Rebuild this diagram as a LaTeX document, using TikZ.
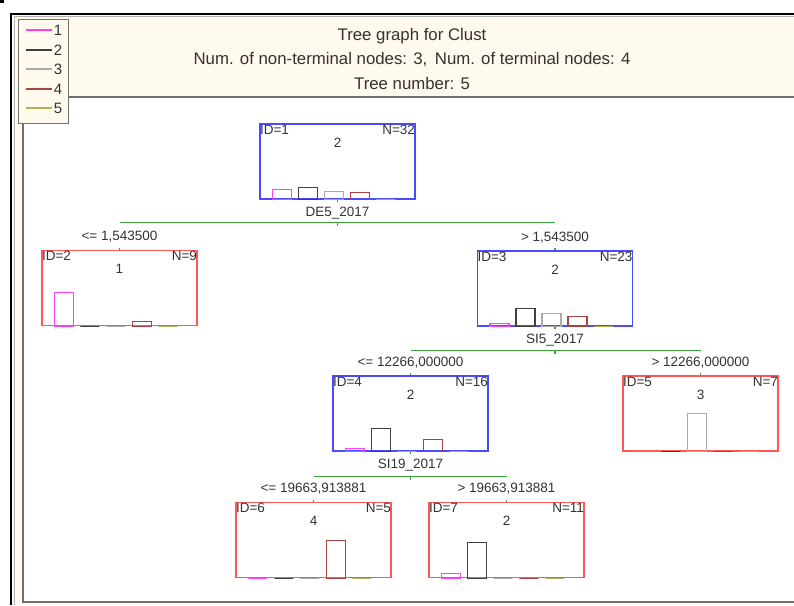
\documentclass[tikz,border=0pt]{standalone}
\usepackage{fontspec}
\setmainfont{Liberation Sans}
\definecolor{cream}{HTML}{FFF9EE}
\definecolor{boxblue}{HTML}{4A4AFF}
\definecolor{boxred}{HTML}{FF5656}
\definecolor{splitgreen}{HTML}{3AA23A}
\definecolor{cA}{HTML}{FF40FF}
\definecolor{cB}{HTML}{404040}
\definecolor{cC}{HTML}{AAAAAA}
\definecolor{cD}{HTML}{A84444}
\definecolor{cE}{HTML}{B0B060}
\definecolor{txt}{HTML}{333333}
\definecolor{framegray}{HTML}{707070}
\tikzset{
  tbox/.style={draw, minimum width=155pt, minimum height=75pt, inner sep=0pt, line width=1.3pt},
  bluebox/.style={tbox, draw=boxblue},
  redbox/.style={tbox, draw=boxred},
  lab/.style={inner sep=0.5pt, text=txt, font=\fontsize{13.5}{15}\selectfont},
  titletext/.style={inner sep=0pt, text=txt, font=\fontsize{16.8}{19}\selectfont},
  legtext/.style={inner sep=0pt, text=txt, font=\fontsize{15}{17}\selectfont},
  bar/.style={line width=1.3pt},
  split/.style={draw=splitgreen, line width=1.2pt},
}
\newcommand{\treebars}[6]{%
  \draw[bar,cA] ([xshift=13pt]#1.south west) rectangle ++(19pt,#2pt);
  \draw[bar,cB] ([xshift=39pt]#1.south west) rectangle ++(19pt,#3pt);
  \draw[bar,cC] ([xshift=65pt]#1.south west) rectangle ++(19pt,#4pt);
  \draw[bar,cD] ([xshift=91pt]#1.south west) rectangle ++(19pt,#5pt);
  \draw[bar,cE] ([xshift=117pt]#1.south west) rectangle ++(19pt,#6pt);
}
\newcommand{\boxtexts}[4]{%
  \node[lab, anchor=north west] (#1id) at ([yshift=-1pt]#1.north west) {ID=#2};
  \node[lab, anchor=north east] (#1n) at ([yshift=-1pt]#1.north east) {N=#3};
  \node[lab] (#1c) at ([yshift=-19pt]#1.north) {#4};
}
\begin{document}
\begin{tikzpicture}[x=1pt, y=-1pt]
\useasboundingbox (0,0) rectangle (794,605);
\fill[white] (0,0) rectangle (794,605);
\fill[black] (0,0) rectangle (4,3);
% window frame
\fill[cream] (11,14) rectangle (794,605);
\fill[white] (23,97) rectangle (794,602);
\draw[framegray, line width=1.3pt] (794,97) -- (23,97) -- (23,602) -- (794,602);
\draw[black, line width=2.5pt] (11,605) -- (11,14) -- (794,14);
\draw[gray!60, line width=1pt] (14,605) -- (14,16.5) -- (794,16.5);
% title
\node[titletext] (title1) at (412,36) {Tree graph for Clust};
\node[titletext] (title2) at (412,59) {Num. of non-terminal nodes: 3,\hspace{0.45em}Num. of terminal nodes: 4};
\node[titletext] (title3) at (412,83) {Tree number: 5};
% legend
\node[draw=framegray, fill=cream, line width=1.3pt, minimum width=50pt, minimum height=104pt, inner sep=0pt, anchor=north west] (legend) at (18,19) {};
\draw[cA, line width=1.3pt] (26,30) -- (52,30);
\draw[cB, line width=1.3pt] (26,50) -- (52,50);
\draw[cC, line width=1.3pt] (26,69) -- (52,69);
\draw[cD, line width=1.3pt] (26,89) -- (52,89);
\draw[cE, line width=1.3pt] (26,108) -- (52,108);
\node[legtext] (leg1) at (58,30) {1};
\node[legtext] (leg2) at (58,50) {2};
\node[legtext] (leg3) at (58,69) {3};
\node[legtext] (leg4) at (58,89) {4};
\node[legtext] (leg5) at (58,108) {5};
% tree nodes
\node[bluebox] (n1) at (337.5,161.5) {};
\node[redbox]  (n2) at (119.5,288) {};
\node[bluebox] (n3) at (555,288.5) {};
\node[bluebox] (n4) at (410.5,413.5) {};
\node[redbox]  (n5) at (700.5,413.5) {};
\node[redbox]  (n6) at (313.5,540) {};
\node[redbox]  (n7) at (506.5,540) {};
\boxtexts{n1}{1}{32}{2}
\boxtexts{n2}{2}{9}{1}
\boxtexts{n3}{3}{23}{2}
\boxtexts{n4}{4}{16}{2}
\boxtexts{n5}{5}{7}{3}
\boxtexts{n6}{6}{5}{4}
\boxtexts{n7}{7}{11}{2}
\treebars{n1}{10}{12}{8}{7}{0}
\treebars{n2}{34}{0}{0}{5}{0}
\treebars{n3}{3}{18}{13}{10}{0}
\treebars{n4}{3}{23}{0}{12}{0}
\treebars{n5}{0}{0}{38}{0}{0}
\treebars{n6}{0}{0}{0}{38}{0}
\treebars{n7}{5}{36}{0}{0}{0}
% split variables
\node[lab] (v1) at ([yshift=-13pt]n1.south) {DE5\_2017};
\node[lab] (v3) at ([yshift=-13pt]n3.south) {SI5\_2017};
\node[lab] (v4) at ([yshift=-13pt]n4.south) {SI19\_2017};
% thresholds
\node[lab] (t2) at ([yshift=13pt]n2.north) {<= 1,543500};
\node[lab] (t3) at ([yshift=13pt]n3.north) {> 1,543500};
\node[lab] (t4) at ([yshift=13pt]n4.north) {<= 12266,000000};
\node[lab] (t5) at ([yshift=13pt]n5.north) {> 12266,000000};
\node[lab] (t6) at ([yshift=13pt]n6.north) {<= 19663,913881};
\node[lab] (t7) at ([yshift=13pt]n7.north) {> 19663,913881};
% split connectors
\coordinate (s1) at ([yshift=-23pt]n1.south);
\coordinate (s3) at ([yshift=-24pt]n3.south);
\coordinate (s4) at ([yshift=-25pt]n4.south);
\draw[split] (s1 -| n2.north) -- (s1 -| n3.north);
\draw[split] (s3 -| n4.north) -- (s3 -| n5.north);
\draw[split] (s4 -| n6.north) -- (s4 -| n7.north);
\foreach \p in {n1,n3,n4}{
  \draw[split] (\p.south) -- ++(0,-2pt);
}
\draw[split] (s1) -- ++(0,-3pt);
\draw[split] (s3) -- ++(0,-3pt);
\draw[split] (s4) -- ++(0,-3pt);
\foreach \c in {n2,n3,n4,n5,n6,n7}{
  \draw[split] (\c.north) -- ++(0,2pt);
}
\end{tikzpicture}
\end{document}
